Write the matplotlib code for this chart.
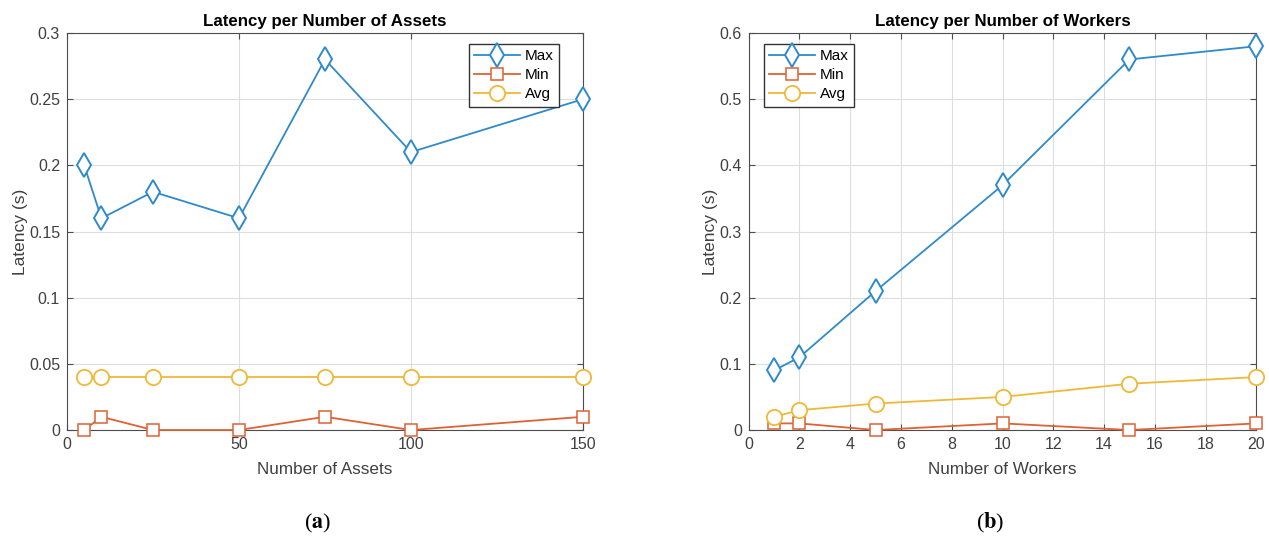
import matplotlib
matplotlib.use("Agg")
import matplotlib.pyplot as plt

plt.rcParams['font.family'] = ['Liberation Sans', 'DejaVu Sans']
plt.rcParams['mathtext.fontset'] = 'stix'

# (a) latency per number of assets
assets = [5, 10, 25, 50, 75, 100, 150]
assets_max = [0.20, 0.16, 0.18, 0.16, 0.28, 0.21, 0.25]
assets_min = [0.0, 0.01, 0.0, 0.0, 0.01, 0.0, 0.01]
assets_avg = [0.04, 0.04, 0.04, 0.04, 0.04, 0.04, 0.04]

# (b) latency per number of workers
workers = [1, 2, 5, 10, 15, 20]
workers_max = [0.09, 0.11, 0.21, 0.37, 0.56, 0.58]
workers_min = [0.01, 0.01, 0.0, 0.01, 0.0, 0.01]
workers_avg = [0.02, 0.03, 0.04, 0.05, 0.07, 0.08]

c_max = '#2f8acb'
c_min = '#dd6236'
c_avg = '#efb938'
txt = '#404040'

fig = plt.figure(figsize=(12.69, 5.38), dpi=100)
ax1 = fig.add_axes([0.0528, 0.2007, 0.4066, 0.738])
ax2 = fig.add_axes([0.590, 0.2007, 0.400, 0.738])


def draw(ax, x, ymax, ymin, yavg):
    ax.plot(x, ymax, '-', color=c_max, marker='d', markersize=12, mfc='white',
            mew=1.4, lw=1.3, label='Max', zorder=3, clip_on=False)
    ax.plot(x, ymin, '-', color=c_min, marker='s', markersize=8, mfc='white',
            mew=1.1, lw=1.3, label='Min', zorder=3, clip_on=False)
    ax.plot(x, yavg, '-', color=c_avg, marker='o', markersize=11, mfc='white',
            mew=1.3, lw=1.3, label='Avg', zorder=3, clip_on=False)
    ax.grid(True, color='#dedede', lw=0.8)
    ax.set_axisbelow(True)
    ax.tick_params(direction='in', top=True, right=True, length=4, pad=5,
                   labelsize=11.5, colors='#4d4d4d', labelcolor=txt)
    for s in ax.spines.values():
        s.set_color('#4d4d4d')
        s.set_linewidth(0.8)
    ax.set_ylabel('Latency (s)', fontsize=12.5, color=txt, labelpad=1)


leg_kw = dict(fontsize=11, fancybox=False, edgecolor='#333333', framealpha=1,
              handlelength=3, borderpad=0.35, labelspacing=0.32, handletextpad=0.3,
              borderaxespad=0)

draw(ax1, assets, assets_max, assets_min, assets_avg)
ax1.set_xlim(0, 150)
ax1.set_ylim(0, 0.3)
ax1.set_xticks([0, 50, 100, 150])
ax1.set_yticks([0, 0.05, 0.1, 0.15, 0.2, 0.25, 0.3])
ax1.set_yticklabels(['0', '0.05', '0.1', '0.15', '0.2', '0.25', '0.3'])
ax1.set_xlabel('Number of Assets', fontsize=12.3, color=txt, labelpad=7)
ax1.set_title('Latency per Number of Assets', fontsize=12.2, fontweight='bold', pad=5)
ax1.legend(loc='upper right', bbox_to_anchor=(0.953, 0.972), **leg_kw)

draw(ax2, workers, workers_max, workers_min, workers_avg)
ax2.set_xlim(0, 20)
ax2.set_ylim(0, 0.6)
ax2.set_xticks(range(0, 21, 2))
ax2.set_yticks([0, 0.1, 0.2, 0.3, 0.4, 0.5, 0.6])
ax2.set_yticklabels(['0', '0.1', '0.2', '0.3', '0.4', '0.5', '0.6'])
ax2.set_xlabel('Number of Workers', fontsize=12.3, color=txt, labelpad=7)
ax2.set_title('Latency per Number of Workers', fontsize=12.2, fontweight='bold', pad=5)
ax2.legend(loc='upper left', bbox_to_anchor=(0.03, 0.972), **leg_kw)

fig.text(0.2506, 0.005, r'($\mathbf{a}$)', ha='center', va='bottom', fontsize=16,
         family='Liberation Serif')
fig.text(0.780, 0.005, r'($\mathbf{b}$)', ha='center', va='bottom', fontsize=16,
         family='Liberation Serif')

fig.savefig('out.png', dpi=100)
